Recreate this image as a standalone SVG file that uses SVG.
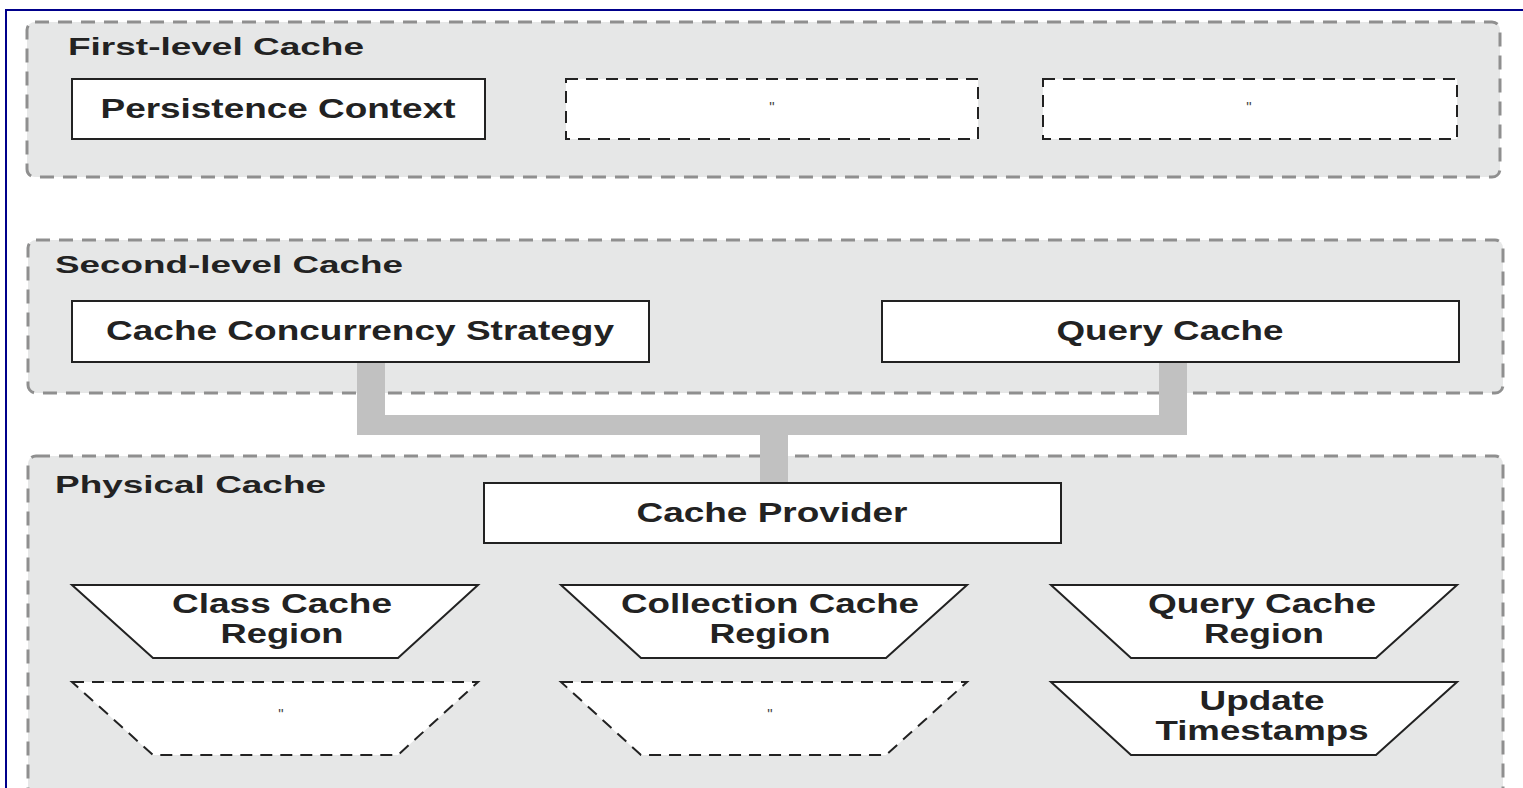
<svg xmlns="http://www.w3.org/2000/svg" width="1523" height="788" viewBox="0 0 1523 788">
<style>
.frame{fill:none;stroke:#00008b;stroke-width:2}
.cont{fill:#e6e7e7;stroke:#8f8f8f;stroke-width:3;stroke-dasharray:14 9}
.box{fill:#fff;stroke:#222;stroke-width:2}
.dbox{fill:#fff;stroke:#222;stroke-width:2;stroke-dasharray:12 8}
.conn{fill:#c1c1c1}
text{font-family:"Liberation Sans",Arial,sans-serif;font-weight:bold;fill:#222}
.lbl{font-size:24px}
.t{font-size:27px;text-anchor:middle}
.q{font-size:15px;text-anchor:middle;font-weight:normal;fill:#444}
</style>
<rect width="1523" height="788" fill="#fff"/>
<path class="frame" d="M6,788 V10 H1523"/>

<g id="first-level-cache">
<rect class="cont" x="27" y="22" width="1473" height="155" rx="8"/>
<text class="lbl" x="68" y="55" textLength="296" lengthAdjust="spacingAndGlyphs">First-level Cache</text>
</g>
<g id="second-level-cache">
<rect class="cont" x="28" y="240" width="1475" height="153" rx="8"/>
<text class="lbl" x="55" y="273" textLength="348" lengthAdjust="spacingAndGlyphs">Second-level Cache</text>
</g>
<g id="physical-cache">
<rect class="cont" x="28" y="456" width="1475" height="340" rx="8"/>
<text class="lbl" x="55" y="493" textLength="271" lengthAdjust="spacingAndGlyphs">Physical Cache</text>
</g>

<g id="connectors">
<rect class="conn" x="357" y="362" width="28" height="73"/>
<rect class="conn" x="357" y="415" width="830" height="20"/>
<rect class="conn" x="1159" y="362" width="28" height="73"/>
<rect class="conn" x="760" y="435" width="28" height="48"/>
</g>

<g id="persistence-context">
<rect class="box" x="72" y="79" width="413" height="60"/>
<text class="t" x="278" y="118" textLength="355" lengthAdjust="spacingAndGlyphs">Persistence Context</text>
</g>
<g id="pc-ditto-1">
<rect class="dbox" x="566" y="79" width="412" height="60"/>
<text class="q" x="772" y="112">"</text>
</g>
<g id="pc-ditto-2">
<rect class="dbox" x="1043" y="79" width="414" height="60"/>
<text class="q" x="1249" y="112">"</text>
</g>

<g id="cache-concurrency-strategy">
<rect class="box" x="72" y="301" width="577" height="61"/>
<text class="t" x="360" y="340" textLength="508" lengthAdjust="spacingAndGlyphs">Cache Concurrency Strategy</text>
</g>
<g id="query-cache">
<rect class="box" x="882" y="301" width="577" height="61"/>
<text class="t" x="1170" y="340" textLength="227" lengthAdjust="spacingAndGlyphs">Query Cache</text>
</g>

<g id="cache-provider">
<rect class="box" x="484" y="483" width="577" height="60"/>
<text class="t" x="772" y="522" textLength="271" lengthAdjust="spacingAndGlyphs">Cache Provider</text>
</g>

<g id="class-cache-region">
<polygon class="box" points="72,585 478,585 398,658 153,658"/>
<text class="t" x="282" y="613" textLength="220" lengthAdjust="spacingAndGlyphs">Class Cache</text>
<text class="t" x="282" y="643" textLength="123" lengthAdjust="spacingAndGlyphs">Region</text>
</g>
<g id="collection-cache-region">
<polygon class="box" points="561,585 967,585 886,658 641,658"/>
<text class="t" x="770" y="613" textLength="298" lengthAdjust="spacingAndGlyphs">Collection Cache</text>
<text class="t" x="770" y="643" textLength="121" lengthAdjust="spacingAndGlyphs">Region</text>
</g>
<g id="query-cache-region">
<polygon class="box" points="1051,585 1457,585 1376,658 1131,658"/>
<text class="t" x="1262" y="613" textLength="228" lengthAdjust="spacingAndGlyphs">Query Cache</text>
<text class="t" x="1264" y="643" textLength="120" lengthAdjust="spacingAndGlyphs">Region</text>
</g>

<g id="class-ditto">
<polygon class="dbox" points="72,682 478,682 398,755 153,755"/>
<text class="q" x="281" y="719">"</text>
</g>
<g id="collection-ditto">
<polygon class="dbox" points="561,682 967,682 886,755 641,755"/>
<text class="q" x="770" y="719">"</text>
</g>
<g id="update-timestamps">
<polygon class="box" points="1051,682 1457,682 1376,755 1131,755"/>
<text class="t" x="1262" y="710" textLength="125" lengthAdjust="spacingAndGlyphs">Update</text>
<text class="t" x="1262" y="740" textLength="213" lengthAdjust="spacingAndGlyphs">Timestamps</text>
</g>
</svg>
